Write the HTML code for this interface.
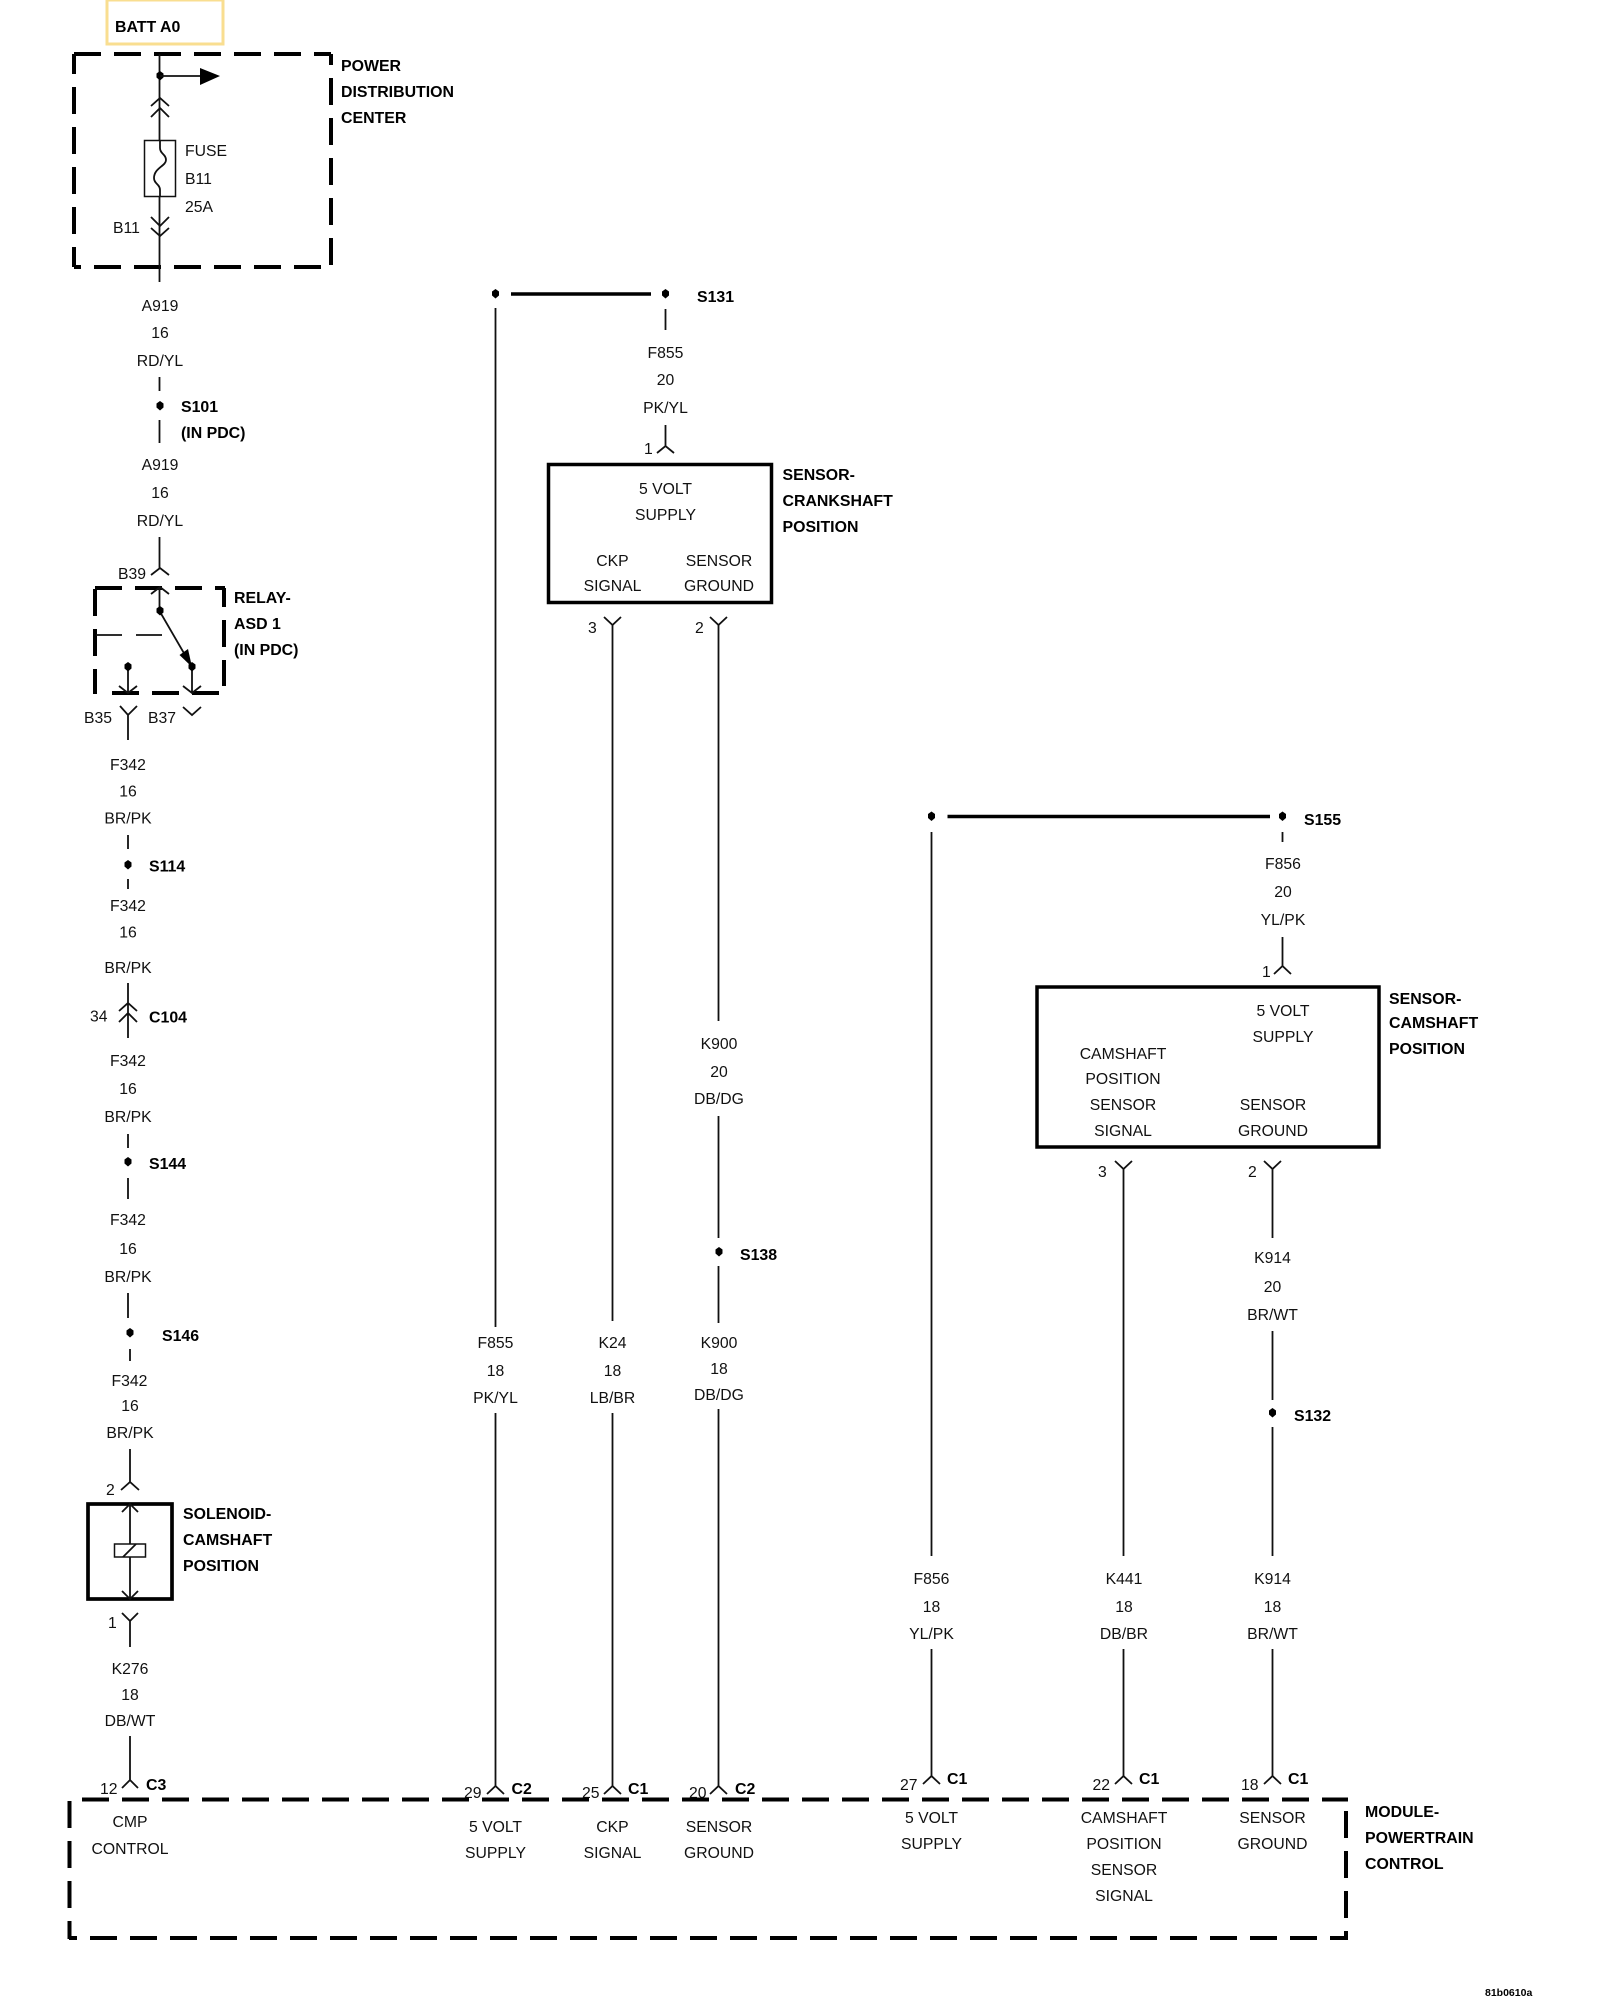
<!DOCTYPE html>
<html><head><meta charset="utf-8"><style>
html,body{margin:0;padding:0;background:#fff}
svg{display:block}
text{font-family:"Liberation Sans",Arial,sans-serif;font-size:15.75px;fill:#111}
.m{text-anchor:middle}
.b{font-weight:bold;fill:#000;font-size:15.9px}
.w{stroke:#111;stroke-width:1.8;fill:none}
.t{stroke:#000;stroke-width:3.5;fill:none}
.d{stroke:#000;stroke-width:4;fill:none;stroke-dasharray:27 13}
.n{fill:#000}
</style></head><body>
<svg width="1600" height="2000" viewBox="0 0 1600 2000" xmlns="http://www.w3.org/2000/svg">
<defs><polygon id="dot" class="n" points="0,-5 3.5,-2.500 3.5,1.500 0,4.500 -3.5,1.500 -3.5,-2.500"/></defs>
<rect width="1600" height="2000" fill="#fff"/>
<!-- BATT -->
<rect x="107" y="0" width="116" height="44" fill="#fff" stroke="#f9de90" stroke-width="3"/>
<text x="115" y="32" class="b">BATT A0</text>
<!-- PDC box -->
<path class="d" d="M74 54H331"/>
<path class="d" style="stroke-dashoffset:16" d="M331 54V267"/>
<path class="d" style="stroke-dashoffset:20" d="M74 267H331"/>
<path class="d" style="stroke-dashoffset:7" d="M74 267V54"/>
<text x="341" y="71" class="b">POWER</text>
<text x="341" y="97" class="b">DISTRIBUTION</text>
<text x="341" y="123" class="b">CENTER</text>
<path class="w" d="M159.500 54V282"/>
<use href="#dot" x="160" y="76"/>
<path class="w" d="M160 76H202"/>
<polygon class="n" points="200,68 220,76 200,85"/>
<path class="w" d="M151 106L160 98L169 106M151 117L160 108L169 117M151 217L160 226L169 217M151 228L160 236L169 228"/>
<rect x="144.500" y="140.500" width="31" height="56" fill="#fff" stroke="#111" stroke-width="1.5"/>
<path class="w" d="M160 141V148C160 154 166 154 166 160C166 166 154 168 154 178C154 184 160 184 160 190V197"/>
<text x="185" y="156">FUSE</text><text x="185" y="184">B11</text><text x="185" y="212">25A</text>
<text x="113" y="233">B11</text>
<text x="160" y="311" class="m">A919</text><text x="160" y="338" class="m">16</text><text x="160" y="366" class="m">RD/YL</text>
<path class="w" d="M159.500 377V391M159.500 420V443"/>
<use href="#dot" x="160" y="406"/>
<text x="181" y="412" class="b">S101</text><text x="181" y="438" class="b">(IN PDC)</text>
<text x="160" y="470" class="m">A919</text><text x="160" y="498" class="m">16</text><text x="160" y="526" class="m">RD/YL</text>
<path class="w" d="M159.500 537V568M151 575L160 568L169 575"/>
<text x="118" y="579">B39</text>
<!-- Relay -->
<path class="d" d="M95 588H225"/>
<path class="d" style="stroke-dashoffset:8" d="M224 588V686"/>
<path class="d" d="M112 693H219"/>
<path class="d" style="stroke-dashoffset:2" d="M95 694V588"/>
<text x="234" y="603" class="b">RELAY-</text><text x="234" y="629" class="b">ASD 1</text><text x="234" y="655" class="b">(IN PDC)</text>
<path class="w" d="M159.500 587V611L192 667V693M151 594L160 587L169 594M183 686L192 693L201 686M183 707L192 715L201 707"/>
<use href="#dot" x="160" y="611"/><use href="#dot" x="192" y="667"/>
<polygon class="n" points="192,667 179.500,655 188,649"/>
<path class="w" d="M96 635H122M136 635H162"/>
<path class="w" d="M128 667V693M119 686L128 693L137 686M120 706L128 715L137 706M128 715V740"/>
<use href="#dot" x="128" y="667"/>
<text x="84" y="723">B35</text><text x="148" y="723">B37</text>
<!-- left column -->
<text x="128" y="770" class="m">F342</text><text x="128" y="796.500" class="m">16</text><text x="128" y="823.500" class="m">BR/PK</text>
<path class="w" d="M128 835V849M128 879V889"/>
<use href="#dot" x="128" y="865"/>
<text x="149" y="871.500" class="b">S114</text>
<text x="128" y="911" class="m">F342</text><text x="128" y="937.500" class="m">16</text><text x="128" y="973" class="m">BR/PK</text>
<path class="w" d="M128 983V1038M119 1011L128 1003L137 1011M119 1022L128 1013L137 1022"/>
<text x="90" y="1021.500">34</text><text x="149" y="1022.500" class="b">C104</text>
<text x="128" y="1066" class="m">F342</text><text x="128" y="1094" class="m">16</text><text x="128" y="1122" class="m">BR/PK</text>
<path class="w" d="M128 1134V1148M128 1178V1199"/>
<use href="#dot" x="128" y="1162"/>
<text x="149" y="1169" class="b">S144</text>
<text x="128" y="1225" class="m">F342</text><text x="128" y="1254" class="m">16</text><text x="128" y="1282" class="m">BR/PK</text>
<path class="w" d="M128 1293V1318M130 1349V1361"/>
<use href="#dot" x="130" y="1333"/>
<text x="162" y="1341" class="b">S146</text>
<text x="129.500" y="1386" class="m">F342</text><text x="130" y="1411" class="m">16</text><text x="130" y="1438" class="m">BR/PK</text>
<path class="w" d="M130 1449V1482M121 1490L130 1482L139 1490"/>
<text x="106" y="1495">2</text>
<!-- solenoid -->
<rect x="88" y="1504" width="84" height="95" fill="#fff" stroke="#000" stroke-width="3.7"/>
<path class="w" d="M130 1504V1599M122 1512L130 1504L138 1512M122 1591L130 1599L138 1591"/>
<rect x="114.500" y="1544" width="31" height="13" fill="#fff" stroke="#111" stroke-width="1.5"/>
<path class="w" d="M123 1557L136 1544"/>
<text x="183" y="1519" class="b">SOLENOID-</text><text x="183" y="1545" class="b">CAMSHAFT</text><text x="183" y="1571" class="b">POSITION</text>
<path class="w" d="M122 1613L130 1621L138 1613M130 1621V1647"/>
<text x="108" y="1628">1</text>
<text x="130" y="1674" class="m">K276</text><text x="130" y="1700" class="m">18</text><text x="130" y="1726" class="m">DB/WT</text>
<path class="w" d="M130 1736V1780M122 1788L130 1780L138 1788"/>
<text x="100" y="1794">12</text><text x="146" y="1790" class="b">C3</text>
<!-- S131 -->
<path class="t" d="M511 294H651"/>
<use href="#dot" x="495.500" y="294"/><use href="#dot" x="665.500" y="294"/>
<text x="697" y="302" class="b">S131</text>
<path class="w" d="M665.500 309V330"/>
<text x="665.500" y="358" class="m">F855</text><text x="665.500" y="385" class="m">20</text><text x="665.500" y="413" class="m">PK/YL</text>
<path class="w" d="M665.500 425V446M657 453L665.500 446L674 453"/>
<text x="644" y="454">1</text>
<rect x="548.500" y="464.500" width="223" height="138" fill="#fff" stroke="#000" stroke-width="3.5"/>
<text x="665.500" y="494" class="m">5 VOLT</text><text x="665.500" y="520" class="m">SUPPLY</text>
<text x="612.500" y="566" class="m">CKP</text><text x="612.500" y="591" class="m">SIGNAL</text>
<text x="719" y="566" class="m">SENSOR</text><text x="719" y="591" class="m">GROUND</text>
<text x="782.500" y="480" class="b">SENSOR-</text><text x="782.500" y="506" class="b">CRANKSHAFT</text><text x="782.500" y="532" class="b">POSITION</text>
<path class="w" d="M604 617L612.500 625L621 617M710 617L718.500 625L727 617"/>
<text x="588" y="633">3</text><text x="695" y="633">2</text>
<path class="w" d="M495.500 308V1327M495.500 1413V1786M612.500 625V1321M612.500 1413V1786M718.500 625V1021M718.500 1116V1238M718.500 1266V1323M718.500 1409V1786"/>
<text x="495.500" y="1348" class="m">F855</text><text x="495.500" y="1376" class="m">18</text><text x="495.500" y="1403" class="m">PK/YL</text>
<text x="612.500" y="1348" class="m">K24</text><text x="612.500" y="1376" class="m">18</text><text x="612.500" y="1403" class="m">LB/BR</text>
<text x="719" y="1049" class="m">K900</text><text x="719" y="1077" class="m">20</text><text x="719" y="1104" class="m">DB/DG</text>
<use href="#dot" x="719" y="1252"/>
<text x="740" y="1260" class="b">S138</text>
<text x="719" y="1348" class="m">K900</text><text x="719" y="1374" class="m">18</text><text x="719" y="1400" class="m">DB/DG</text>
<!-- S155 -->
<path class="t" d="M947.500 816.500H1270"/>
<use href="#dot" x="931.500" y="816.500"/><use href="#dot" x="1282.500" y="816.500"/>
<text x="1304" y="825" class="b">S155</text>
<path class="w" d="M1282.500 832V842"/>
<text x="1283" y="869" class="m">F856</text><text x="1283" y="897" class="m">20</text><text x="1283" y="925" class="m">YL/PK</text>
<path class="w" d="M1282.500 937V966M1274 974L1282.500 966L1291 974"/>
<text x="1262" y="977">1</text>
<rect x="1037" y="987" width="342" height="160" fill="#fff" stroke="#000" stroke-width="3.5"/>
<text x="1283" y="1016" class="m">5 VOLT</text><text x="1283" y="1042" class="m">SUPPLY</text>
<text x="1123" y="1059" class="m">CAMSHAFT</text><text x="1123" y="1084" class="m">POSITION</text><text x="1123" y="1110" class="m">SENSOR</text><text x="1123" y="1136" class="m">SIGNAL</text>
<text x="1273" y="1110" class="m">SENSOR</text><text x="1273" y="1136" class="m">GROUND</text>
<text x="1389" y="1004" class="b">SENSOR-</text><text x="1389" y="1028" class="b">CAMSHAFT</text><text x="1389" y="1054" class="b">POSITION</text>
<path class="w" d="M1115 1161L1123.500 1169L1132 1161M1264 1161L1272.500 1169L1281 1161"/>
<text x="1098" y="1177">3</text><text x="1248" y="1177">2</text>
<path class="w" d="M931.500 832V1556M931.500 1649V1776M1123.500 1169V1556M1123.500 1649V1776M1272.500 1169V1238M1272.500 1331V1400M1272.500 1427V1556M1272.500 1649V1776"/>
<text x="1272.500" y="1263" class="m">K914</text><text x="1272.500" y="1292" class="m">20</text><text x="1272.500" y="1320" class="m">BR/WT</text>
<use href="#dot" x="1272.500" y="1413"/>
<text x="1294" y="1421" class="b">S132</text>
<text x="931.500" y="1584" class="m">F856</text><text x="931.500" y="1612" class="m">18</text><text x="931.500" y="1639" class="m">YL/PK</text>
<text x="1124" y="1584" class="m">K441</text><text x="1124" y="1612" class="m">18</text><text x="1124" y="1639" class="m">DB/BR</text>
<text x="1272.500" y="1584" class="m">K914</text><text x="1272.500" y="1612" class="m">18</text><text x="1272.500" y="1639" class="m">BR/WT</text>
<!-- Bottom connectors -->
<path class="w" d="M487 1794L495.500 1786L504 1794M604 1794L612.500 1786L621 1794M710 1794L718.500 1786L727 1794M923 1784L931.500 1776L940 1784M1115 1784L1123.500 1776L1132 1784M1264 1784L1272.500 1776L1281 1784"/>
<text x="464" y="1798">29</text><text x="511.500" y="1794" class="b">C2</text>
<text x="582" y="1798">25</text><text x="628" y="1794" class="b">C1</text>
<text x="689" y="1798">20</text><text x="735" y="1794" class="b">C2</text>
<text x="900" y="1790">27</text><text x="947" y="1784" class="b">C1</text>
<text x="1092.500" y="1790">22</text><text x="1139" y="1784" class="b">C1</text>
<text x="1241" y="1790">18</text><text x="1288" y="1784" class="b">C1</text>
<!-- PCM box -->
<path class="d" d="M82 1799.500H1348"/>
<path class="d" style="stroke-dashoffset:19" d="M69 1938H1348"/>
<path class="d" style="stroke-dashoffset:9" d="M69.500 1939V1800"/>
<path class="d" style="stroke-dashoffset:19" d="M1346 1939V1809"/>
<text x="130" y="1827" class="m">CMP</text><text x="130" y="1854" class="m">CONTROL</text>
<text x="495.500" y="1832" class="m">5 VOLT</text><text x="495.500" y="1858" class="m">SUPPLY</text>
<text x="612.500" y="1832" class="m">CKP</text><text x="612.500" y="1858" class="m">SIGNAL</text>
<text x="719" y="1832" class="m">SENSOR</text><text x="719" y="1858" class="m">GROUND</text>
<text x="931.500" y="1823" class="m">5 VOLT</text><text x="931.500" y="1849" class="m">SUPPLY</text>
<text x="1124" y="1823" class="m">CAMSHAFT</text><text x="1124" y="1849" class="m">POSITION</text><text x="1124" y="1875" class="m">SENSOR</text><text x="1124" y="1901" class="m">SIGNAL</text>
<text x="1272.500" y="1823" class="m">SENSOR</text><text x="1272.500" y="1849" class="m">GROUND</text>
<text x="1365" y="1817" class="b">MODULE-</text><text x="1365" y="1843" class="b">POWERTRAIN</text><text x="1365" y="1869" class="b">CONTROL</text>
<text x="1485" y="1996" class="b" style="font-size:10.5px">81b0610a</text>
</svg>
</body></html>
